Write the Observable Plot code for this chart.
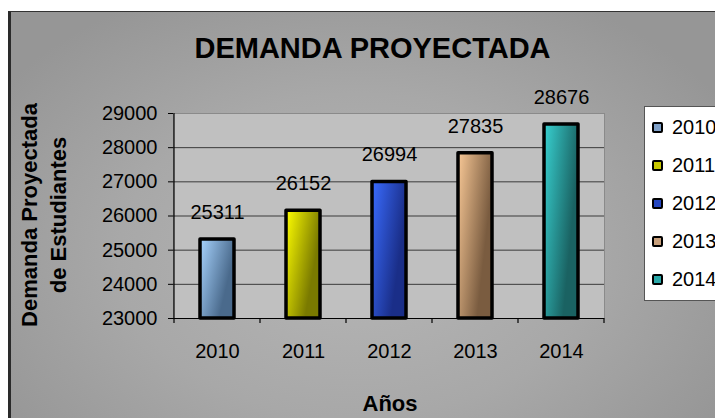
<!DOCTYPE html>
<html>
<head>
<meta charset="utf-8">
<script src="https://cdn.jsdelivr.net/npm/d3@7"></script>
<script src="https://cdn.jsdelivr.net/npm/@observablehq/plot@0.6"></script>
<style>
  html, body { margin: 0; padding: 0; background: #fff; }
  #wrap { position: relative; width: 715px; height: 418px; overflow: hidden; background: #fff;
          font-family: "Liberation Sans", Arial, sans-serif; }
  #panel { position: absolute; left: 8px; top: 11px; width: 720px; height: 420px;
           border-top: 1.5px solid #333; border-left: 3px solid #2a2a2a;
           background: radial-gradient(ellipse 60% 70% at 48% 58%, #b6b6b6 0%, #a8a8a8 55%, #969696 100%); }
  #chart { position: absolute; left: 0; top: 0; }
  .title { position: absolute; font-weight: bold; white-space: nowrap; color: #000; }
  #legend { position: absolute; left: 644px; top: 106px; width: 110px; height: 193px;
            background: #fff; border: 1px solid #555; }
  .item { position: absolute; left: 7px; height: 20px; display: flex; align-items: center; }
  .sw { width: 7px; height: 7px; border: 2.5px solid #000; border-radius: 2px; margin-right: 9px; }
  .lbl { font-size: 20px; line-height: 20px; }
</style>
</head>
<body>
<div id="wrap">
  <div id="panel"></div>
  <div id="chart"></div>
  <div class="title" id="t-main" style="left:372.5px; top:33.5px; font-size:29px; line-height:29px; transform:translateX(-50%);">DEMANDA PROYECTADA</div>
  <div class="title" id="t-x" style="left:390px; top:392.5px; font-size:22px; line-height:22px; transform:translateX(-50%);">Años</div>
  <div class="title" id="t-y" style="left:44px; top:215px; font-size:22px; line-height:29px; text-align:center; transform:translate(-50%,-50%) rotate(-90deg);">Demanda Proyectada<br>de Estudiantes</div>
  <div id="legend"></div>
</div>
<script>
// ---- data ----
const years = ["2010", "2011", "2012", "2013", "2014"];
const demanda = [25311, 26152, 26994, 27835, 28676];
const yTicks = [23000, 24000, 25000, 26000, 27000, 28000, 29000];
const xTitle = "Años";
// ---- palette ----
const lightColors = ["#a8d4ff", "#ffff00", "#3a6cff", "#f8c896", "#38d2d2"];
const darkColors  = ["#4a6a8c", "#7a7a00", "#1a2e88", "#7a5c40", "#1a6262"];
const swatchColors = ["#7fa0c8", "#c8c800", "#2446c0", "#c8a07c", "#2aa8a8"];

const data = years.map((year, i) => ({year, value: demanda[i], i}));

const plot = Plot.plot({
  width: 715,
  height: 418,
  marginTop: 113,
  marginBottom: 100,
  marginLeft: 173,
  marginRight: 111,
  style: {fontFamily: "'Liberation Sans', Arial, sans-serif", background: "transparent", color: "#000", overflow: "visible"},
  x: {domain: years, paddingInner: 0.605, paddingOuter: 0.3025, label: null},
  y: {domain: [yTicks[0], yTicks[yTicks.length - 1]], label: null},
  color: {type: "identity"},
  marks: [
    Plot.frame({fill: "#c0c0c0", stroke: "#8a8a8a", strokeWidth: 1}),
    Plot.gridY(yTicks.slice(1, -1), {stroke: "#3a3a3a", strokeOpacity: 1, strokeWidth: 1}),
    Plot.axisY(yTicks, {anchor: "left", tickSize: 5, tickPadding: 11, fontSize: 20, tickFormat: d => String(d), label: null, stroke: "#000"}),
    Plot.axisX({anchor: "bottom", tickSize: 0, tickPadding: 25, fontSize: 20, label: null}),
    Plot.barY(data, {x: "year", y1: yTicks[0], y2: "value", fill: d => `url(#g${d.year})`, stroke: "#000", strokeWidth: 3.5, strokeLinejoin: "round"}),
    Plot.text(data, {x: "year", y: "value", text: d => String(d.value), dy: -27, fontSize: 20, fill: "#000"}),
    Plot.ruleY([yTicks[0]], {stroke: "#000", strokeWidth: 1.2})
  ]
});

document.getElementById("chart").appendChild(plot);

// gradients
const svg = d3.select(plot);
const defs = svg.insert("defs", ":first-child");
years.forEach((y, i) => {
  const g = defs.append("linearGradient").attr("id", "g" + y)
    .attr("x1", 0).attr("y1", 0).attr("x2", 1).attr("y2", 0.55);
  g.append("stop").attr("offset", "0%").attr("stop-color", lightColors[i]);
  g.append("stop").attr("offset", "85%").attr("stop-color", darkColors[i]);
});

// axis lines and category boundary ticks from the scales
const xs = plot.scale("x"), ys = plot.scale("y");
const step = xs.step, bw = xs.bandwidth;
const bounds = years.map(y => xs.apply(y) + bw / 2 - step / 2);
bounds.push(xs.apply(years[years.length - 1]) + bw / 2 + step / 2);
const yBase = ys.apply(yTicks[0]), yTop = ys.apply(yTicks[yTicks.length - 1]);
const ax = svg.append("g").attr("stroke", "#000").attr("stroke-width", 1.2);
ax.append("line").attr("x1", bounds[0]).attr("x2", bounds[0]).attr("y1", yTop).attr("y2", yBase);
bounds.forEach(b => ax.append("line").attr("x1", b).attr("x2", b).attr("y1", yBase).attr("y2", yBase + 5));

// legend
const leg = document.getElementById("legend");
years.forEach((y, i) => {
  const it = document.createElement("div");
  it.className = "item";
  it.style.top = (10 + i * 38) + "px";
  it.innerHTML = `<div class="sw" style="background:${swatchColors[i]}"></div><span class="lbl">${y}</span>`;
  leg.appendChild(it);
});
</script>
</body>
</html>
